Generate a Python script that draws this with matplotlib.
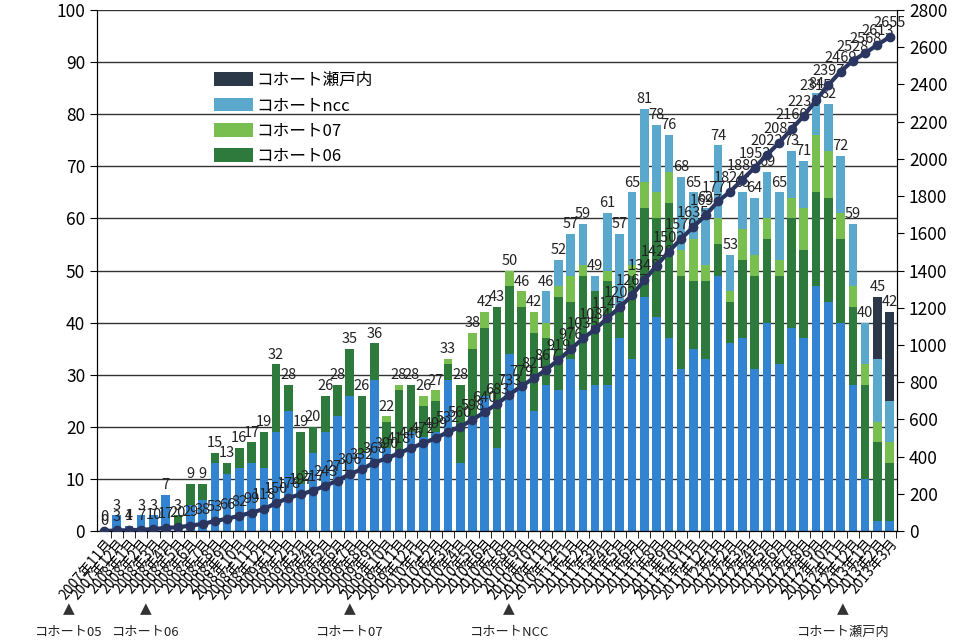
import numpy as np
import matplotlib
matplotlib.use('Agg')
import matplotlib.pyplot as plt
import matplotlib.transforms as mtransforms

plt.rcParams['font.family'] = ['Noto Sans CJK JP', 'DejaVu Sans']

# months 2007/11 .. 2013/3
months = []
y, m = 2007, 11
while (y, m) <= (2013, 3):
    months.append(f'{y}年{m}月')
    m += 1
    if m > 12:
        y, m = y + 1, 1

# monthly registrations per cohort
c05 = [0, 3, 1, 3, 3, 7, 1, 5, 6, 13, 11, 12, 13, 12, 19, 23, 9, 15, 19, 22,
       26, 15, 29, 16, 15, 19, 18, 19, 29, 13, 22, 26, 16, 34, 27, 23, 28, 27, 33, 27,
       28, 28, 37, 33, 45, 41, 37, 31, 35, 33, 49, 36, 37, 31, 40, 32, 39, 37, 47, 44,
       40, 28, 10, 2, 2]
c06 = [0, 0, 0, 0, 0, 0, 2, 4, 3, 2, 2, 4, 4, 7, 13, 5, 10, 5, 7, 6,
       9, 11, 7, 5, 12, 9, 6, 6, 3, 15, 13, 13, 27, 13, 16, 15, 9, 18, 11, 22,
       18, 20, 6, 16, 17, 19, 26, 18, 13, 15, 6, 8, 15, 18, 16, 17, 21, 17, 18, 20,
       16, 15, 18, 15, 11]
c07 = [0, 0, 0, 0, 0, 0, 0, 0, 0, 0, 0, 0, 0, 0, 0, 0, 0, 0, 0, 0,
       0, 0, 0, 1, 1, 0, 2, 2, 1, 0, 3, 3, 0, 3, 3, 4, 3, 2, 5, 2,
       0, 2, 0, 2, 5, 5, 6, 5, 8, 3, 5, 2, 6, 4, 4, 3, 4, 8, 11, 9,
       5, 4, 4, 4, 4]
ncc = [0] * 36 + [6, 5, 8, 8, 3, 11, 14, 14, 14, 13, 7, 14, 9, 11, 14, 7, 7, 11, 9, 13,
                  9, 9, 8, 9, 11, 12, 8, 12, 8]
setouchi = [0] * 63 + [12, 17]

cohort_marks = [('コホート05', -2.9), ('コホート06', 3.4), ('コホート07', 20.0),
                ('コホートNCC', 33.0), ('コホート瀬戸内', 60.2)]

c05, c06, c07, ncc, setouchi = map(np.array, (c05, c06, c07, ncc, setouchi))
total = c05 + c06 + c07 + ncc + setouchi
cum = np.cumsum(total)
x = np.arange(len(months))

fig = plt.figure(figsize=(9.76, 6.41), dpi=100)
ax = fig.add_axes([0.0994, 0.1716, 0.8197, 0.8128])

w = 0.7
col05, col06, col07, colncc, colset = '#3283d0', '#2d7a3c', '#78bf4f', '#5aa8cc', '#2a3848'
bottom = np.zeros(len(x))
bars = {}
for name, vals, c in [('コホート05', c05, col05), ('コホート06', c06, col06),
                      ('コホート07', c07, col07), ('コホートncc', ncc, colncc),
                      ('コホート瀬戸内', setouchi, colset)]:
    bars[name] = ax.bar(x, vals, w, bottom=bottom, color=c, zorder=2)
    bottom = bottom + vals

for xi, t in zip(x, total):
    ax.annotate(str(t), (xi, t), xytext=(0, 2), textcoords='offset points',
                ha='center', va='bottom', fontsize=10.5, color='#222222', zorder=5)

ax.set_ylim(0, 100)
ax.set_yticks(range(0, 101, 10))
ax.set_xlim(-0.6, len(x) - 0.4)
ax.grid(axis='y', color='#333333', linewidth=1, zorder=0)
ax.set_axisbelow(True)
ax.tick_params(axis='y', labelsize=12.5, length=5)
ax.set_xticks(x)
ax.set_xticklabels(months, rotation=50, ha='right', fontsize=10, rotation_mode='anchor')
ax.tick_params(axis='x', length=0, pad=4)
ax.set_xticks(x + 0.5, minor=True)
ax.tick_params(axis='x', which='minor', length=5, direction='out')
ax.spines['top'].set_visible(False)

ax2 = ax.twinx()
ax2.plot(x, cum, color='#2b3660', linewidth=3, marker='o', markersize=6, zorder=4)
for xi, c in zip(x, cum):
    ax2.annotate(str(c), (xi, c), xytext=(0, 5), textcoords='offset points',
                 ha='center', va='bottom', fontsize=10.5, color='#222222')
ax2.set_ylim(0, 2800)
ax2.set_yticks(range(0, 2801, 200))
ax2.tick_params(axis='y', labelsize=12.5, length=5)
ax2.spines['top'].set_visible(False)

handles = [bars['コホート瀬戸内'], bars['コホートncc'], bars['コホート07'], bars['コホート06']]
labels = ['コホート瀬戸内', 'コホートncc', 'コホート07', 'コホート06']
leg = ax.legend(handles, labels, loc='upper left', bbox_to_anchor=(0.128, 0.91),
                frameon=False, fontsize=12, handlelength=2.3, handleheight=0.9,
                labelspacing=0.5, handletextpad=0.2)
leg.set_zorder(6)

trans = mtransforms.blended_transform_factory(ax.transData, fig.transFigure)
for name, pos in cohort_marks:
    fig.text(pos, 0.050, '▲', transform=trans, ha='center', va='center',
             fontsize=11, color='#333333', family=['DejaVu Sans'])
    fig.text(pos, 0.014, name, transform=trans, ha='center', va='center',
             fontsize=9.5, color='#222222')

fig.savefig('out.png', dpi=100)
